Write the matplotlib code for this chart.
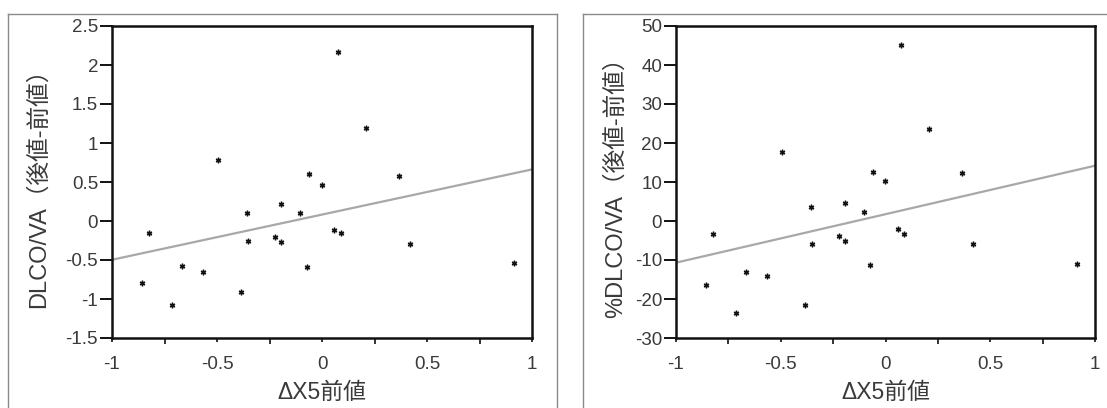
import numpy as np
import matplotlib
matplotlib.use("Agg")
import matplotlib.pyplot as plt
from matplotlib.lines import Line2D
from matplotlib.ticker import FixedLocator

plt.rcParams['font.family'] = ['Liberation Sans', 'Noto Sans CJK JP', 'DejaVu Sans']
plt.rcParams['axes.unicode_minus'] = False

# ΔX5 baseline values (shared x for both panels)
dx5_pre = [-0.855, -0.824, -0.715, -0.665, -0.565, -0.496, -0.384, -0.355,
           -0.353, -0.223, -0.193, -0.193, -0.103, -0.072, -0.061, -0.001,
           0.058, 0.076, 0.089, 0.208, 0.367, 0.417, 0.915]

# Change in DLCO/VA (post - pre)
dlco_va_change = [-0.80, -0.157, -1.075, -0.577, -0.659, 0.788, -0.908, 0.105,
                  -0.255, -0.20, 0.212, -0.268, 0.105, -0.594, 0.607, 0.466,
                  -0.114, 2.161, -0.152, 1.187, 0.573, -0.290, -0.539]

# Change in %DLCO/VA (post - pre)
pct_dlco_va_change = [-16.4, -3.4, -23.6, -13.1, -14.2, 17.75, -21.6, 3.6,
                      -6.0, -3.8, 4.7, -5.1, 2.3, -11.2, 12.5, 10.3,
                      -2.1, 45.2, -3.3, 23.6, 12.2, -5.9, -11.1]

x_label = "ΔX5前値"
y_labels = ["DLCO/VA（後値-前値）", "%DLCO/VA（後値-前値）"]
y_limits = [(-1.5, 2.5), (-30, 50)]
y_steps = [0.5, 10]
x_ticks = [-1, -0.5, 0, 0.5, 1]
x_ticklabels = ["-1", "-0.5", "0", "0.5", "1"]
x_minor = [-0.75, -0.25, 0.25, 0.75]

W, H = 1107, 408
fig = plt.figure(figsize=(W / 100, H / 100), dpi=100)
fig.patch.set_facecolor("white")

# axes boxes in pixels: left, top, right, bottom
axes_boxes = [(112, 26, 532, 338), (676, 26, 1095, 338)]
ylabel_x = [50, 627]      # right (descender) edge of rotated y label
xlabel_top = 381
text_col = "#3a3a3a"

for i, (yvals, box) in enumerate(zip([dlco_va_change, pct_dlco_va_change], axes_boxes)):
    x0, y0, x1, y1 = box
    ax = fig.add_axes([x0 / W, 1 - y1 / H, (x1 - x0) / W, (y1 - y0) / H])
    x = np.array(dx5_pre)
    y = np.array(yvals)

    # least-squares regression line across the full x range
    slope, intercept = np.polyfit(x, y, 1)
    xl = np.array([-1.0, 1.0])
    ax.plot(xl, intercept + slope * xl, color="#a8a8a8", lw=1.6, zorder=2)
    ax.plot(x, y, linestyle="none", marker=(6, 2, 0), ms=4, mew=1.0,
            color="#111111", zorder=3)

    ax.set_xlim(-1, 1)
    lo, hi = y_limits[i]
    ax.set_ylim(lo, hi)
    yt = np.arange(lo, hi + y_steps[i] / 2, y_steps[i])
    ax.yaxis.set_major_locator(FixedLocator(yt))
    ax.set_yticklabels([f"{v:g}" for v in yt])
    ax.xaxis.set_major_locator(FixedLocator(x_ticks))
    ax.set_xticklabels(x_ticklabels)
    ax.xaxis.set_minor_locator(FixedLocator(x_minor))

    for sp in ax.spines.values():
        sp.set_linewidth(1.8)
        sp.set_color("#111111")

    ax.tick_params(axis="y", which="major", direction="out", length=9, width=1.4,
                   colors="#111111", labelcolor=text_col, labelsize=13.5, pad=1)
    ax.tick_params(axis="x", which="major", direction="out", length=3, width=1.2,
                   colors="#111111", labelcolor=text_col, labelsize=13.5, pad=10)
    ax.tick_params(axis="x", which="minor", direction="out", length=4, width=1.2,
                   colors="#111111")

    ax.set_xlabel(x_label, fontsize=16.5, color=text_col)
    ax.xaxis.set_label_coords(0.5, -(xlabel_top - y1) / (y1 - y0), transform=ax.transAxes)
    ax.set_ylabel(y_labels[i], fontsize=17, color=text_col)
    ax.yaxis.set_label_coords(-(x0 - ylabel_x[i]) / (x1 - x0), 0.5, transform=ax.transAxes)

# panel frames
frame_col = "#8a8a8a"


def pline(xa, ya, xb, yb):
    fig.add_artist(Line2D([xa / W, xb / W], [1 - ya / H, 1 - yb / H],
                          color=frame_col, lw=1.0, transform=fig.transFigure))


pline(8, 14, 557, 14)
pline(8, 14, 8, 408)
pline(557, 14, 557, 408)
pline(583, 14, 1107, 14)
pline(583, 14, 583, 408)

fig.savefig("out.png", dpi=100, facecolor="white")
